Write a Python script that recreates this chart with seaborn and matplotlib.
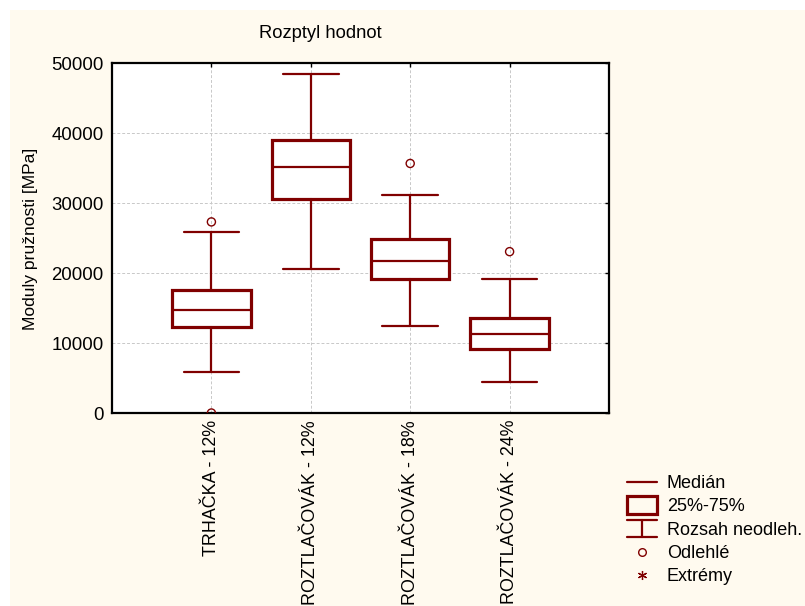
import numpy as np
import matplotlib
matplotlib.use('Agg')
import matplotlib.pyplot as plt
import seaborn as sns
from matplotlib.lines import Line2D
from matplotlib.patches import Rectangle
from matplotlib.legend_handler import HandlerBase

categories = ["TRHAČKA - 12%", "ROZTLAČOVÁK - 12%", "ROZTLAČOVÁK - 18%", "ROZTLAČOVÁK - 24%"]
whisker_low = [5800, 20600, 12400, 4500]
q1 = [12300, 30600, 19100, 9100]
median = [14650, 35150, 21700, 11250]
q3 = [17600, 39000, 24850, 13600]
whisker_high = [25800, 48400, 31100, 19100]
outlier_cat = [0, 0, 2, 3]
outlier_val = [27300, 0, 35650, 23050]
yticks = [0, 10000, 20000, 30000, 40000, 50000]
ytick_labels = ["0", "10000", "20000", "30000", "40000", "50000"]
legend_labels = ["Medián", "25%-75%", "Rozsah neodleh.", "Odlehlé", "Extrémy"]

sns.set_style('white')
plt.rcParams['font.family'] = ['Liberation Sans', 'DejaVu Sans']
plt.rcParams['text.color'] = 'black'
plt.rcParams['axes.labelcolor'] = 'black'
plt.rcParams['xtick.color'] = 'black'
plt.rcParams['ytick.color'] = 'black'

MAROON = '#800000'
BG = '#FFFAEF'

fig = plt.figure(figsize=(8.05, 6.06), dpi=100, facecolor='white')
fig.patches.append(Rectangle((10/805, -0.1), 1.2, 1.1 - 10/606, transform=fig.transFigure,
                             facecolor=BG, edgecolor='none', zorder=-10))
ax = fig.add_axes([112/805, (606-413)/606, (609-112)/805, (413-63)/606])
ax.set_facecolor('white')

stats = []
for i in range(len(categories)):
    stats.append(dict(med=median[i], q1=q1[i], q3=q3[i],
                      whislo=whisker_low[i], whishi=whisker_high[i], fliers=[]))
positions = list(range(len(categories)))
ax.bxp(stats, positions=positions, widths=0.79, capwidths=0.56, showfliers=False,
       patch_artist=True,
       boxprops=dict(facecolor='white', edgecolor=MAROON, linewidth=2.3),
       medianprops=dict(color=MAROON, linewidth=1.6),
       whiskerprops=dict(color=MAROON, linewidth=1.6),
       capprops=dict(color=MAROON, linewidth=1.6), zorder=3)

sns.scatterplot(x=outlier_cat, y=outlier_val, ax=ax, marker='o', s=34,
                facecolors='none', edgecolor=MAROON, linewidth=1.0, zorder=4)

ax.set_xlim(-1, 4)
ax.set_ylim(0, 50000)
ax.set_xticks(positions)
ax.set_xticklabels(categories, rotation=90, fontsize=12.9, va='top', ha='center')
ax.set_yticks(yticks)
ax.set_yticklabels(ytick_labels, fontsize=13.4)
ax.tick_params(axis='both', direction='in', length=3, width=1, top=True, right=True,
               colors='black')
ax.tick_params(axis='x', pad=5)
ax.tick_params(axis='y', pad=6)
ax.grid(True, color='#c8c8c8', linestyle=(0, (3, 2)), linewidth=0.7, zorder=0)
ax.set_axisbelow(True)
for s in ax.spines.values():
    s.set_visible(True)
    s.set_color('black')
    s.set_linewidth(1.6)
ax.set_xlabel('')
ax.set_ylabel('')

fig.text(320/805, 1 - 33/606, "Rozptyl hodnot", fontsize=13.2, ha='center', va='center',
         color='black')
fig.text(31/805, 1 - 239/606, "Moduly pružnosti [MPa]", fontsize=12.6, rotation=90,
         ha='center', va='center', color='black')


class BoxHandler(HandlerBase):
    def create_artists(self, legend, orig_handle, xdescent, ydescent, width, height,
                       fontsize, trans):
        h = 0.95 * fontsize
        cy = -ydescent + height / 2
        r = Rectangle((-xdescent, cy - h / 2), width, h, facecolor='none',
                      edgecolor=MAROON, linewidth=2.3, transform=trans)
        return [r]


class WhiskerHandler(HandlerBase):
    def create_artists(self, legend, orig_handle, xdescent, ydescent, width, height,
                       fontsize, trans):
        h = 0.95 * fontsize
        cy = -ydescent + height / 2
        x0, x1 = -xdescent, -xdescent + width
        xc = (x0 + x1) / 2
        top = Line2D([x0, x1], [cy + h / 2, cy + h / 2], color=MAROON, lw=1.6, transform=trans)
        bot = Line2D([x0, x1], [cy - h / 2, cy - h / 2], color=MAROON, lw=1.6, transform=trans)
        vert = Line2D([xc, xc], [cy - h / 2, cy + h / 2], color=MAROON, lw=1.6, transform=trans)
        return [top, vert, bot]


class BoxKey:
    pass


class WhiskerKey:
    pass


handles = [
    Line2D([], [], color=MAROON, lw=1.6),
    BoxKey(),
    WhiskerKey(),
    Line2D([], [], color=MAROON, lw=0, marker='o', markersize=5.5,
           markerfacecolor='none', markeredgecolor=MAROON, markeredgewidth=1.0),
    Line2D([], [], color=MAROON, lw=0, marker=(6, 2, 0), markersize=6.5,
           markeredgewidth=0.9, markeredgecolor=MAROON),
]
leg = fig.legend(handles, legend_labels, loc='upper left',
                 bbox_to_anchor=(627/805, 1 - 475/606), frameon=False, fontsize=13.0,
                 handlelength=1.65, handletextpad=0.55, labelspacing=0.35,
                 borderaxespad=0, borderpad=0,
                 handler_map={BoxKey: BoxHandler(), WhiskerKey: WhiskerHandler()})
for t in leg.get_texts():
    t.set_color('black')

fig.savefig('out.png', dpi=100, facecolor=fig.get_facecolor())
